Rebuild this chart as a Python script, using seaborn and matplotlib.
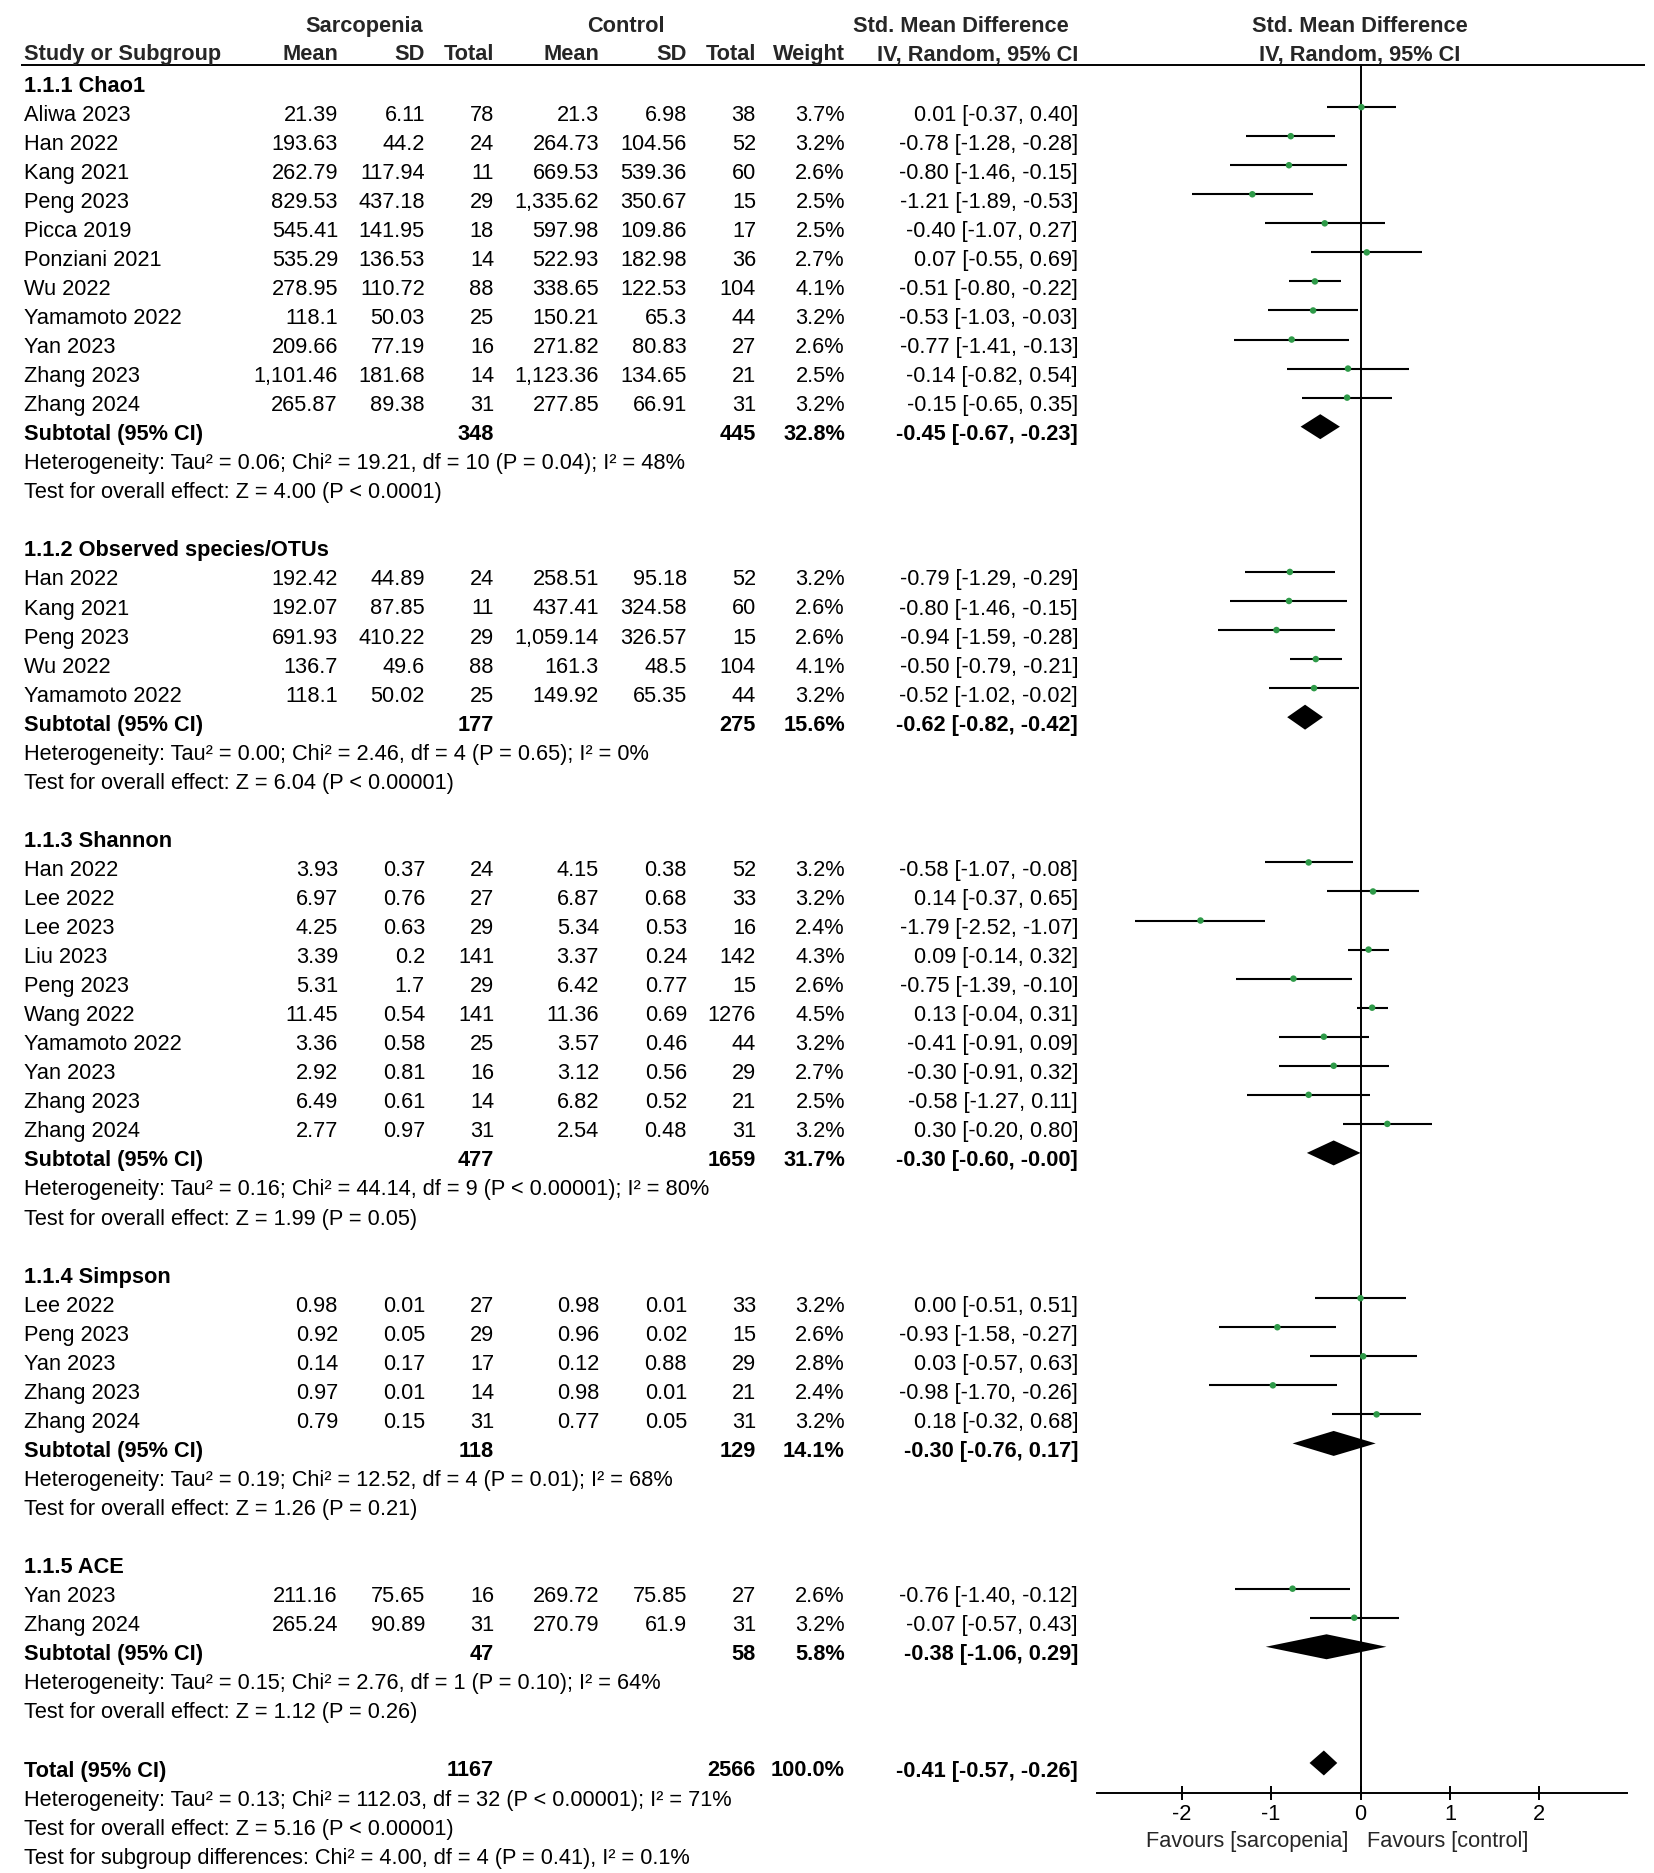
"""
Forest plot: alpha diversity in sarcopenia vs control (SMD, random effects)
"""

import numpy as np
import pandas as pd
import matplotlib
matplotlib.use('Agg')
import matplotlib.pyplot as plt
import seaborn as sns

sns.set_theme(style='white')
plt.rcParams['font.family'] = ['Liberation Sans', 'DejaVu Sans']

# ---- data ----
group_titles = ['1.1.1 Chao1', '1.1.2 Observed species/OTUs', '1.1.3 Shannon',
                '1.1.4 Simpson', '1.1.5 ACE']

study = ['Aliwa 2023', 'Han 2022', 'Kang 2021', 'Peng 2023', 'Picca 2019', 'Ponziani 2021',
         'Wu 2022', 'Yamamoto 2022', 'Yan 2023', 'Zhang 2023', 'Zhang 2024',
         'Han 2022', 'Kang 2021', 'Peng 2023', 'Wu 2022', 'Yamamoto 2022',
         'Han 2022', 'Lee 2022', 'Lee 2023', 'Liu 2023', 'Peng 2023', 'Wang 2022',
         'Yamamoto 2022', 'Yan 2023', 'Zhang 2023', 'Zhang 2024',
         'Lee 2022', 'Peng 2023', 'Yan 2023', 'Zhang 2023', 'Zhang 2024',
         'Yan 2023', 'Zhang 2024']
group = [0] * 11 + [1] * 5 + [2] * 10 + [3] * 5 + [4] * 2

sarc_mean = [21.39, 193.63, 262.79, 829.53, 545.41, 535.29, 278.95, 118.1, 209.66, 1101.46, 265.87,
             192.42, 192.07, 691.93, 136.7, 118.1,
             3.93, 6.97, 4.25, 3.39, 5.31, 11.45, 3.36, 2.92, 6.49, 2.77,
             0.98, 0.92, 0.14, 0.97, 0.79,
             211.16, 265.24]
sarc_sd = [6.11, 44.2, 117.94, 437.18, 141.95, 136.53, 110.72, 50.03, 77.19, 181.68, 89.38,
           44.89, 87.85, 410.22, 49.6, 50.02,
           0.37, 0.76, 0.63, 0.2, 1.7, 0.54, 0.58, 0.81, 0.61, 0.97,
           0.01, 0.05, 0.17, 0.01, 0.15,
           75.65, 90.89]
sarc_n = [78, 24, 11, 29, 18, 14, 88, 25, 16, 14, 31,
          24, 11, 29, 88, 25,
          24, 27, 29, 141, 29, 141, 25, 16, 14, 31,
          27, 29, 17, 14, 31,
          16, 31]
ctrl_mean = [21.3, 264.73, 669.53, 1335.62, 597.98, 522.93, 338.65, 150.21, 271.82, 1123.36, 277.85,
             258.51, 437.41, 1059.14, 161.3, 149.92,
             4.15, 6.87, 5.34, 3.37, 6.42, 11.36, 3.57, 3.12, 6.82, 2.54,
             0.98, 0.96, 0.12, 0.98, 0.77,
             269.72, 270.79]
ctrl_sd = [6.98, 104.56, 539.36, 350.67, 109.86, 182.98, 122.53, 65.3, 80.83, 134.65, 66.91,
           95.18, 324.58, 326.57, 48.5, 65.35,
           0.38, 0.68, 0.53, 0.24, 0.77, 0.69, 0.46, 0.56, 0.52, 0.48,
           0.01, 0.02, 0.88, 0.01, 0.05,
           75.85, 61.9]
ctrl_n = [38, 52, 60, 15, 17, 36, 104, 44, 27, 21, 31,
          52, 60, 15, 104, 44,
          52, 33, 16, 142, 15, 1276, 44, 29, 21, 31,
          33, 15, 29, 21, 31,
          27, 31]
weight = [3.7, 3.2, 2.6, 2.5, 2.5, 2.7, 4.1, 3.2, 2.6, 2.5, 3.2,
          3.2, 2.6, 2.6, 4.1, 3.2,
          3.2, 3.2, 2.4, 4.3, 2.6, 4.5, 3.2, 2.7, 2.5, 3.2,
          3.2, 2.6, 2.8, 2.4, 3.2,
          2.6, 3.2]
smd = [0.01, -0.78, -0.80, -1.21, -0.40, 0.07, -0.51, -0.53, -0.77, -0.14, -0.15,
       -0.79, -0.80, -0.94, -0.50, -0.52,
       -0.58, 0.14, -1.79, 0.09, -0.75, 0.13, -0.41, -0.30, -0.58, 0.30,
       0.00, -0.93, 0.03, -0.98, 0.18,
       -0.76, -0.07]
ci_lo = [-0.37, -1.28, -1.46, -1.89, -1.07, -0.55, -0.80, -1.03, -1.41, -0.82, -0.65,
         -1.29, -1.46, -1.59, -0.79, -1.02,
         -1.07, -0.37, -2.52, -0.14, -1.39, -0.04, -0.91, -0.91, -1.27, -0.20,
         -0.51, -1.58, -0.57, -1.70, -0.32,
         -1.40, -0.57]
ci_hi = [0.40, -0.28, -0.15, -0.53, 0.27, 0.69, -0.22, -0.03, -0.13, 0.54, 0.35,
         -0.29, -0.15, -0.28, -0.21, -0.02,
         -0.08, 0.65, -1.07, 0.32, -0.10, 0.31, 0.09, 0.32, 0.11, 0.80,
         0.51, -0.27, 0.63, -0.26, 0.68,
         -0.12, 0.43]

# subgroup summaries
sub_n_sarc = [348, 177, 477, 118, 47]
sub_n_ctrl = [445, 275, 1659, 129, 58]
sub_weight = [32.8, 15.6, 31.7, 14.1, 5.8]
sub_smd = [-0.45, -0.62, -0.30, -0.30, -0.38]
sub_lo = [-0.67, -0.82, -0.60, -0.76, -1.06]
sub_hi = [-0.23, -0.42, -0.00, 0.17, 0.29]
het_tau2 = [0.06, 0.00, 0.16, 0.19, 0.15]
het_chi2 = [19.21, 2.46, 44.14, 12.52, 2.76]
het_df = [10, 4, 9, 4, 1]
het_p = ['= 0.04', '= 0.65', '< 0.00001', '= 0.01', '= 0.10']
het_i2 = [48, 0, 80, 68, 64]
z_val = [4.00, 6.04, 1.99, 1.26, 1.12]
z_p = ['< 0.0001', '< 0.00001', '= 0.05', '= 0.21', '= 0.26']

# overall
tot_n_sarc, tot_n_ctrl, tot_weight = 1167, 2566, 100.0
tot_smd, tot_lo, tot_hi = -0.41, -0.57, -0.26
tot_het = 'Heterogeneity: Tau\u00b2 = 0.13; Chi\u00b2 = 112.03, df = 32 (P < 0.00001); I\u00b2 = 71%'
tot_z = 'Test for overall effect: Z = 5.16 (P < 0.00001)'
tot_sub = 'Test for subgroup differences: Chi\u00b2 = 4.00, df = 4 (P = 0.41), I\u00b2 = 0.1%'

df = pd.DataFrame({'study': study, 'group': group, 'sarc_mean': sarc_mean, 'sarc_sd': sarc_sd,
                   'sarc_n': sarc_n, 'ctrl_mean': ctrl_mean, 'ctrl_sd': ctrl_sd, 'ctrl_n': ctrl_n,
                   'weight': weight, 'smd': smd, 'lo': ci_lo, 'hi': ci_hi})

# ---- row layout ----
rows, title_rows, sub_rows = [], [], []
r = 0
for g in range(len(group_titles)):
    title_rows.append(r)
    r += 1
    n = (df['group'] == g).sum()
    rows += list(range(r, r + n))
    r += n
    sub_rows.append(r)
    r += 4
total_row = r
df['row'] = rows

# pixel geometry
W, H = 1654, 1873
Y0, DY = 83.6, 29.05          # row centre in px
FS = 15.7
ZERO_PX, UNIT_PX = 1360.5, 89.4
AX_L, AX_R, AX_T, AX_B = 1097, 1627, 65, 1792.7

def ypx(row):
    return Y0 + DY * row

fig = plt.figure(figsize=(W / 100, H / 100), dpi=100)
tax = fig.add_axes([0, 0, 1, 1])
tax.set_xlim(0, W)
tax.set_ylim(H, 0)
tax.axis('off')

col_right = {'sarc_mean': 338, 'sarc_sd': 425, 'sarc_n': 494, 'ctrl_mean': 599,
             'ctrl_sd': 687, 'ctrl_n': 756, 'weight': 845, 'ci': 1078}
NAME_X = 24
BASE = 8   # baseline offset from row centre


def put(x, row, s, ha='left', bold=False):
    tax.text(x, ypx(row) + BASE, s, ha=ha, va='baseline', fontsize=FS,
             fontweight='bold' if bold else 'normal', color='black')


def num(v):
    return f'{v:,}'


# headers
for x, s in [(364, 'Sarcopenia'), (626, 'Control'), (961, 'Std. Mean Difference'),
             (1360, 'Std. Mean Difference')]:
    tax.text(x, 31.5, s, ha='center', va='baseline', fontsize=FS, fontweight='bold')
tax.text(NAME_X, 60, 'Study or Subgroup', ha='left', va='baseline', fontsize=FS, fontweight='bold')
for key, s in [('sarc_mean', 'Mean'), ('sarc_sd', 'SD'), ('sarc_n', 'Total'), ('ctrl_mean', 'Mean'),
               ('ctrl_sd', 'SD'), ('ctrl_n', 'Total'), ('weight', 'Weight'), ('ci', 'IV, Random, 95% CI')]:
    tax.text(col_right[key], 60, s, ha='right', va='baseline', fontsize=FS, fontweight='bold')
tax.text(1360, 60, 'IV, Random, 95% CI', ha='center', va='baseline', fontsize=FS, fontweight='bold')
tax.hlines(AX_T, 21, 1645, color='black', lw=1.4)

# study rows
for _, d in df.iterrows():
    rr = d['row']
    put(NAME_X, rr, d['study'])
    put(col_right['sarc_mean'], rr, num(d['sarc_mean']), 'right')
    put(col_right['sarc_sd'], rr, num(d['sarc_sd']), 'right')
    put(col_right['sarc_n'], rr, str(int(d['sarc_n'])), 'right')
    put(col_right['ctrl_mean'], rr, num(d['ctrl_mean']), 'right')
    put(col_right['ctrl_sd'], rr, num(d['ctrl_sd']), 'right')
    put(col_right['ctrl_n'], rr, str(int(d['ctrl_n'])), 'right')
    put(col_right['weight'], rr, f"{d['weight']:.1f}%", 'right')
    put(col_right['ci'], rr, f"{d['smd']:.2f} [{d['lo']:.2f}, {d['hi']:.2f}]", 'right')

# subgroup rows
for g, title in enumerate(group_titles):
    put(NAME_X, title_rows[g], title, bold=True)
    sr = sub_rows[g]
    put(NAME_X, sr, 'Subtotal (95% CI)', bold=True)
    put(col_right['sarc_n'], sr, str(sub_n_sarc[g]), 'right', True)
    put(col_right['ctrl_n'], sr, str(sub_n_ctrl[g]), 'right', True)
    put(col_right['weight'], sr, f'{sub_weight[g]:.1f}%', 'right', True)
    put(col_right['ci'], sr, f'{sub_smd[g]:.2f} [{sub_lo[g]:.2f}, {sub_hi[g]:.2f}]', 'right', True)
    put(NAME_X, sr + 1, f'Heterogeneity: Tau\u00b2 = {het_tau2[g]:.2f}; Chi\u00b2 = {het_chi2[g]:.2f}, '
                        f'df = {het_df[g]} (P {het_p[g]}); I\u00b2 = {het_i2[g]}%')
    put(NAME_X, sr + 2, f'Test for overall effect: Z = {z_val[g]:.2f} (P {z_p[g]})')

put(NAME_X, total_row, 'Total (95% CI)', bold=True)
put(col_right['sarc_n'], total_row, str(tot_n_sarc), 'right', True)
put(col_right['ctrl_n'], total_row, str(tot_n_ctrl), 'right', True)
put(col_right['weight'], total_row, f'{tot_weight:.1f}%', 'right', True)
put(col_right['ci'], total_row, f'{tot_smd:.2f} [{tot_lo:.2f}, {tot_hi:.2f}]', 'right', True)
put(NAME_X, total_row + 1, tot_het)
put(NAME_X, total_row + 2, tot_z)
put(NAME_X, total_row + 3, tot_sub)

# ---- forest panel ----
fax = fig.add_axes([AX_L / W, 1 - AX_B / H, (AX_R - AX_L) / W, (AX_B - AX_T) / H])
fax.patch.set_alpha(0)
fax.set_xlim((AX_L - ZERO_PX) / UNIT_PX, (AX_R - ZERO_PX) / UNIT_PX)
fax.set_ylim((AX_B - Y0) / DY, (AX_T - Y0) / DY)
OFF = -0.19   # marks sit slightly above text centre
df['ypos'] = df['row'] + OFF

fax.axvline(0, color='black', lw=1.4, zorder=1)
fax.hlines(df['ypos'], df['lo'], df['hi'], color='black', lw=1.5, zorder=2)
sns.scatterplot(data=df, x='smd', y='ypos', ax=fax, marker='o', s=22, color='#2e9a48',
                edgecolor='none', zorder=3, legend=False)

HD = 0.43
dia = list(zip(sub_rows, sub_smd, sub_lo, sub_hi)) + [(total_row, tot_smd, tot_lo, tot_hi)]
for rr, m, lo, hi in dia:
    yc = rr + OFF
    fax.fill([lo, m, hi, m], [yc, yc - HD, yc, yc + HD], color='black', lw=0, zorder=3)

for side in ['top', 'right', 'left']:
    fax.spines[side].set_visible(False)
fax.spines['bottom'].set_color('black')
fax.spines['bottom'].set_linewidth(1.4)
fax.set_xticks([-2, -1, 0, 1, 2])
fax.set_xticklabels(['-2', '-1', '0', '1', '2'])
fax.set_yticks([])
fax.tick_params(axis='x', direction='inout', length=10, width=1.4, colors='black',
                labelsize=FS, pad=3, bottom=True)
fax.set_xlabel('')
fax.set_ylabel('')
fax.grid(False)

tax.text(1348, 1847, 'Favours [sarcopenia]', ha='right', va='baseline', fontsize=FS)
tax.text(1367, 1847, 'Favours [control]', ha='left', va='baseline', fontsize=FS)

fig.savefig('out.png', dpi=100)
plt.close(fig)
